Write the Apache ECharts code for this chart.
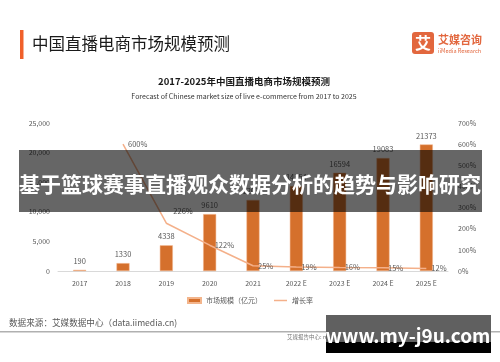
<!DOCTYPE html>
<html><head><meta charset="utf-8">
<script src="https://cdn.jsdelivr.net/npm/echarts@6/dist/echarts.min.js"></script>
<style>html,body{margin:0;padding:0;background:#fff;}#c{width:500px;height:362px;}</style>
</head><body><div id="c"></div>
<script>
const categories = ['2017','2018','2019','2020','2021','2022 E','2023 E','2024 E','2025 E'];
const marketSize = [190, 1330, 4338, 9610, 12012, 14354, 16594, 19083, 21373];
const growthRate = [null, 600, 226, 122, 25, 19, 16, 15, 12];
const leftTicks = [0, 5000, 10000, 15000, 20000, 25000];
const rightTicks = [0, 100, 200, 300, 400, 500, 600, 700];

const FONT = '"Noto Sans CJK SC","Noto Sans",sans-serif';
const chart = echarts.init(document.getElementById('c'));
chart.setOption({
  animation: false,
  textStyle: {fontFamily: FONT},
  grid: {left: 58, right: 52, top: 123, height: 148},
  legend: {
    top: 292, left: 'center', itemWidth: 13, itemHeight: 5, itemGap: 12,
    textStyle: {fontSize: 7, color: '#595959'},
    data: [{name: '市场规模（亿元）', icon: 'rect'},
           {name: '增长率', icon: 'path://M0,0 H26 V3 H0 Z', itemStyle: {color: '#f4b08a'}}]
  },
  xAxis: {
    type: 'category', data: categories,
    axisLine: {lineStyle: {color: '#d9d9d9'}}, axisTick: {show: false},
    axisLabel: {fontSize: 7, color: '#595959', margin: 9}
  },
  yAxis: [
    {type: 'value', min: leftTicks[0], max: leftTicks[leftTicks.length-1], interval: 5000,
     splitLine: {show: false}, axisLabel: {fontSize: 7, color: '#595959', margin: 8}},
    {type: 'value', min: rightTicks[0], max: rightTicks[rightTicks.length-1], interval: 100,
     splitLine: {show: false}, axisLabel: {fontSize: 7, color: '#595959', formatter: '{value}%', margin: 10}}
  ],
  series: [
    {name: '市场规模（亿元）', type: 'bar', data: marketSize, barWidth: 13,
     itemStyle: {color: '#d5702c', borderColor: '#f3b58c', borderWidth: 0.5},
     label: {show: true, position: 'top', fontSize: 7.5, color: '#595959', distance: 5}},
    {name: '增长率', type: 'line', yAxisIndex: 1, data: growthRate, symbol: 'circle', symbolSize: 2, showSymbol: true,
     lineStyle: {color: '#f4b08a', width: 1.5}, itemStyle: {color: 'rgba(244,176,138,0)'},
     labelLayout: function (p) { return p.dataIndex === 2 ? {dx: 2, dy: -12} : {}; },
     label: {show: true, position: 'right', fontSize: 7.5, color: '#595959', formatter: '{c}%', distance: 4}}
  ],
  graphic: [
    {type: 'rect', shape: {x: 20, y: 30, width: 3.5, height: 29}, style: {fill: '#f0602a'}},
    {type: 'text', x: 32, y: 44, style: {text: '中国直播电商市场规模预测', fontSize: 16.5, fill: '#1a1a1a', fontFamily: FONT, textVerticalAlign: 'middle'}},
    {type: 'rect', shape: {x: 412, y: 32, width: 22, height: 22, r: 3}, style: {fill: '#e2673e'}},
    {type: 'text', x: 423, y: 43, style: {text: '艾', fontSize: 16, fill: '#fff', fontWeight: 'bold', fontFamily: FONT, textAlign: 'center', textVerticalAlign: 'middle'}},
    {type: 'text', x: 438, y: 40, style: {text: '艾媒咨询', fontSize: 11, fill: '#e2673e', fontWeight: 'bold', fontFamily: FONT, textVerticalAlign: 'middle'}},
    {type: 'text', x: 438, y: 51, style: {text: 'iiMedia Research', fontSize: 5.5, fill: '#e2673e', fontFamily: FONT, textVerticalAlign: 'middle'}},
    {type: 'text', x: 244, y: 81, style: {text: '2017-2025年中国直播电商市场规模预测', fontSize: 9.5, fontWeight: 'bold', fill: '#1a1a1a', fontFamily: FONT, textAlign: 'center', textVerticalAlign: 'middle'}},
    {type: 'text', x: 244, y: 96, style: {text: 'Forecast of Chinese market size of live e-commerce from 2017 to 2025', fontSize: 7, fill: '#333', fontFamily: FONT, textAlign: 'center', textVerticalAlign: 'middle'}},
    {type: 'text', x: 9, y: 323, style: {text: '数据来源：艾媒数据中心（data.iimedia.cn)', fontSize: 8.6, fill: '#595959', fontFamily: FONT, textVerticalAlign: 'middle'}},
    {type: 'rect', shape: {x: 0, y: 331, width: 500, height: 1.5}, style: {fill: '#b0b0b0'}},
    {type: 'text', x: 287, y: 337, style: {text: '艾媒报告中心: report.iimedia.cn ©2021 iiMedia Research Inc', fontSize: 5.5, fill: '#777', fontFamily: FONT, textVerticalAlign: 'middle'}},
    {type: 'rect', z: 100, shape: {x: 19, y: 150, width: 463, height: 62}, style: {fill: 'rgba(0,0,0,0.6)'}},
    {type: 'text', z: 101, x: 250, y: 184, style: {text: '基于篮球赛事直播观众数据分析的趋势与影响研究', fontSize: 21, fontWeight: 'bold', fill: '#fff', fontFamily: FONT, textAlign: 'center', textVerticalAlign: 'middle'}},
    {type: 'rect', z: 100, shape: {x: 326, y: 315, width: 165, height: 38}, style: {fill: '#000'}},
    {type: 'rect', z: 100, shape: {x: 326, y: 315, width: 165, height: 27}, style: {fill: '#606060'}},
    {type: 'text', z: 101, x: 408, y: 336, style: {text: 'www.my-j9u.com', fontSize: 19, fontWeight: 'bold', fill: '#fff', fontFamily: FONT, textAlign: 'center', textVerticalAlign: 'middle'}}
  ]
});
</script></body></html>
